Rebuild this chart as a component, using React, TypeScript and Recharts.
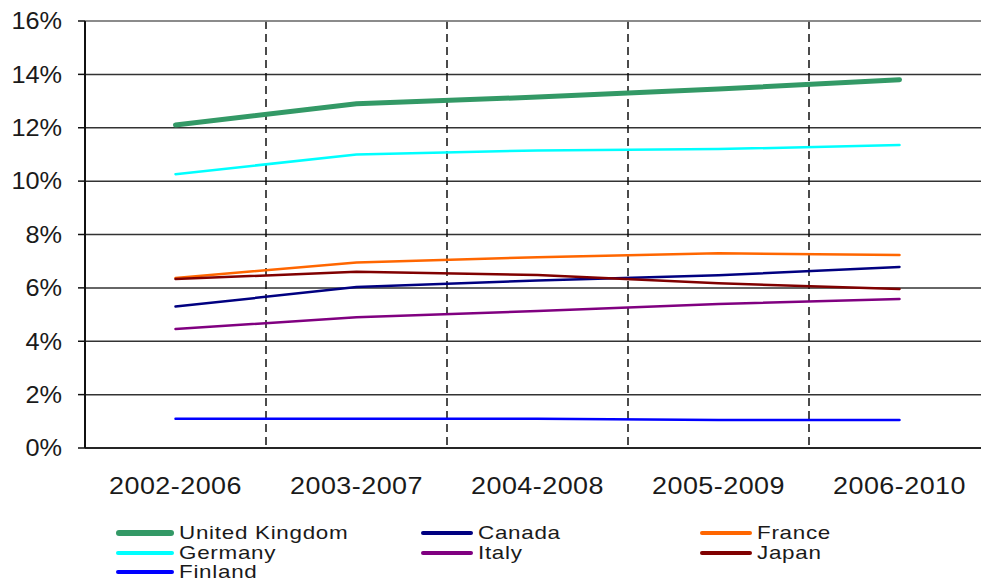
import { LineChart, Line, XAxis, YAxis, CartesianGrid, ReferenceLine } from 'recharts';

const periods = ['2002-2006', '2003-2007', '2004-2008', '2005-2009', '2006-2010'];

// shares in percent
const unitedKingdom = [12.1, 12.9, 13.15, 13.45, 13.8];
const germany = [10.26, 11.0, 11.15, 11.2, 11.35];
const france = [6.37, 6.95, 7.15, 7.3, 7.23];
const japan = [6.33, 6.6, 6.48, 6.17, 5.96];
const canada = [5.3, 6.03, 6.28, 6.47, 6.78];
const italy = [4.46, 4.9, 5.13, 5.4, 5.58];
const finland = [1.1, 1.1, 1.1, 1.05, 1.05];

const yTicks = [0, 2, 4, 6, 8, 10, 12, 14, 16];

const series = [
  { key: 'uk', name: 'United Kingdom', values: unitedKingdom, color: '#339966', width: 5 },
  { key: 'canada', name: 'Canada', values: canada, color: '#000080', width: 2.5 },
  { key: 'france', name: 'France', values: france, color: '#ff6600', width: 2.5 },
  { key: 'germany', name: 'Germany', values: germany, color: '#00ffff', width: 2.5 },
  { key: 'italy', name: 'Italy', values: italy, color: '#800080', width: 2.5 },
  { key: 'japan', name: 'Japan', values: japan, color: '#800000', width: 2.5 },
  { key: 'finland', name: 'Finland', values: finland, color: '#0000ff', width: 2.5 },
];

const data = periods.map((period, i) => {
  const row: Record<string, string | number> = { period };
  series.forEach((s) => {
    row[s.key] = s.values[i];
  });
  return row;
});

const FONT = '"Liberation Sans", Arial, sans-serif';
const TEXT = '#1a1a1a';
const legendCols = [116, 421, 700];

// the source typeface is drawn a little wide, so stretch glyphs horizontally
const XTick = ({ x, y, payload }: any) => (
  <text
    transform={`translate(${x},${y + 21}) scale(1.17,1)`}
    textAnchor="middle"
    dy="0.72em"
    fontSize={23}
    fontFamily={FONT}
    fill={TEXT}
    letterSpacing={0.4}
  >
    {payload.value}
  </text>
);

const YTick = ({ x, y, payload }: any) => (
  <text
    transform={`translate(${x - 4},${y}) scale(1.1,1)`}
    textAnchor="end"
    dy="0.36em"
    fontSize={23}
    fontFamily={FONT}
    fill={TEXT}
  >
    {`${payload.value}%`}
  </text>
);

export default function App() {
  return (
    <div
      style={{
        position: 'absolute',
        left: 0,
        top: 0,
        width: 981,
        height: 585,
        overflow: 'hidden',
        background: '#fff',
        fontFamily: FONT,
      }}
    >
      <LineChart width={995} height={585} data={data} margin={{ top: 21, right: 5, left: 0, bottom: 97 }}>
        <CartesianGrid stroke="#333" strokeWidth={1.5} vertical={false} />
        <CartesianGrid
          horizontal={false}
          stroke="#111"
          strokeWidth={1.5}
          strokeDasharray="8 5"
          // boundaries between the period bands
          verticalCoordinatesGenerator={({ offset }: any) =>
            [1, 2, 3, 4].map((i) => offset.left + (offset.width * i) / periods.length)
          }
        />
        <ReferenceLine y={16} stroke="#999" strokeWidth={1.5} />
        <XAxis
          dataKey="period"
          scale="band"
          height={40}
          tickLine={false}
          axisLine={{ stroke: '#111', strokeWidth: 1.5 }}
          tick={<XTick />}
          interval={0}
        />
        <YAxis
          width={85}
          domain={[0, 16]}
          ticks={yTicks}
          interval={0}
          tickSize={7}
          tickMargin={12}
          tickLine={{ stroke: '#111', strokeWidth: 1.5 }}
          axisLine={{ stroke: '#111', strokeWidth: 2 }}
          tick={<YTick />}
        />
        {series.map((s) => (
          <Line
            key={s.key}
            dataKey={s.key}
            name={s.name}
            stroke={s.color}
            strokeWidth={s.width}
            strokeLinecap="round"
            strokeLinejoin="round"
            dot={false}
            activeDot={false}
            isAnimationActive={false}
          />
        ))}
      </LineChart>

      {/* legend: three columns, filled row by row */}
      {series.map((s, i) => {
        const col = i % 3;
        const row = Math.floor(i / 3);
        const lineLen = col === 0 ? 58 : 52;
        return (
          <div
            key={s.key}
            style={{
              position: 'absolute',
              left: legendCols[col],
              top: 523 + row * 19.5,
              height: 20,
              display: 'flex',
              alignItems: 'center',
              whiteSpace: 'nowrap',
            }}
          >
            <div
              style={{
                width: lineLen,
                height: s.key === 'uk' ? 6 : 4,
                borderRadius: 3,
                background: s.color,
                marginRight: 5,
              }}
            />
            <span
              style={{
                fontSize: 19,
                color: TEXT,
                letterSpacing: 0.6,
                display: 'inline-block',
                transform: 'scaleX(1.18)',
                transformOrigin: 'left center',
              }}
            >
              {s.name}
            </span>
          </div>
        );
      })}
    </div>
  );
}
